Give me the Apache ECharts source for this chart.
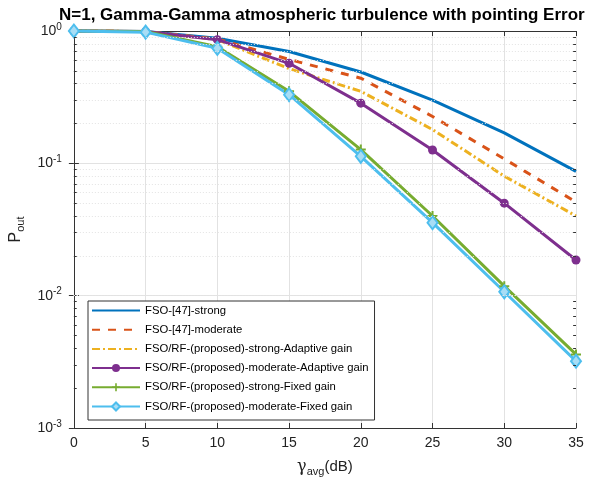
<!DOCTYPE html>
<html><head><meta charset="utf-8">
<script src="https://cdn.jsdelivr.net/npm/echarts@6/dist/echarts.min.js"></script>
<style>html,body{margin:0;padding:0;background:#fff}#c{width:590px;height:482px}</style>
</head><body><div id="c"></div>
<script>
const xValues = [0, 5, 10, 15, 20, 25, 30, 35];
const fsoStrong = [1, 0.99, 0.88, 0.70, 0.49, 0.30, 0.17, 0.087];
const fsoModerate = [1, 0.99, 0.87, 0.61, 0.44, 0.226, 0.108, 0.051];
const rfStrongAdaptive = [1, 0.99, 0.86, 0.52, 0.35, 0.18, 0.08, 0.040];
const rfModerateAdaptive = [1, 0.99, 0.86, 0.57, 0.285, 0.126, 0.050, 0.0186];
const rfStrongFixed = [1, 0.99, 0.76, 0.35, 0.127, 0.040, 0.0118, 0.0036];
const rfModerateFixed = [1, 0.98, 0.74, 0.33, 0.113, 0.0356, 0.0107, 0.0032];
const seriesNames = ['FSO-[47]-strong', 'FSO-[47]-moderate', 'FSO/RF-(proposed)-strong-Adaptive gain',
  'FSO/RF-(proposed)-moderate-Adaptive gain', 'FSO/RF-(proposed)-strong-Fixed gain', 'FSO/RF-(proposed)-moderate-Fixed gain'];
const yTickLabels = {1: '10{s|0}', 0.1: '10{s|-1}', 0.01: '10{s|-2}', 0.001: '10{s|-3}'};
const minorGridValues = [0.002,0.003,0.004,0.005,0.006,0.007,0.008,0.009,
  0.02,0.03,0.04,0.05,0.06,0.07,0.08,0.09,0.2,0.3,0.4,0.5,0.6,0.7,0.8,0.9];

const pair = arr => xValues.map((x, i) => [x, arr[i]]);
const plusPath = 'path://M4,0h2v4h4v2h-4v4h-2v-4h-4v-2h4z';
const font = 'Liberation Sans, Arial, sans-serif';

function lineSeries(name, data, color, opts) {
  return Object.assign({
    name, type: 'line', data: pair(data), clip: false,
    lineStyle: { color, width: 3 }, itemStyle: { color },
    symbol: 'none', showSymbol: false, z: 3
  }, opts || {});
}

const chart = echarts.init(document.getElementById('c'), null, { renderer: 'canvas' });
chart.setOption({
  animation: false,
  textStyle: { fontFamily: font },
  title: {
    text: 'N=1, Gamma-Gamma atmospheric turbulence with pointing Error',
    left: 54, top: 2,
    textStyle: { fontFamily: font, fontSize: 17, fontWeight: 'bold', color: '#000' }
  },
  grid: { left: 72, right: 14, top: 31, bottom: 51, show: false },
  legend: {
    orient: 'vertical', left: 88, top: 301,
    backgroundColor: '#fff', borderColor: '#333', borderWidth: 1, borderRadius: 0,
    padding: [4, 6, 8, 3], itemGap: 8.2, itemWidth: 48, itemHeight: 10,
    textStyle: { fontFamily: font, fontSize: 11.3, color: '#000' },
    data: seriesNames.map((n, i) => i < 3 ? { name: n, itemStyle: { opacity: 0 } } : { name: n })
  },
  xAxis: [{
    type: 'value', min: 0, max: 35, interval: 5,
    name: '{g|γ}{s|avg}(dB)', nameLocation: 'middle', nameGap: 28,
    nameTextStyle: { fontFamily: font, fontSize: 15, color: '#222',
      rich: { g: { fontSize: 16, fontFamily: 'DejaVu Serif', color: '#222' }, s: { fontSize: 11, verticalAlign: 'bottom', padding: [10, 0, 0, 0], color: '#222' } } },
    axisLine: { show: true, onZero: false, lineStyle: { color: '#333', width: 1 } },
    axisTick: { inside: true, length: 5, lineStyle: { color: '#333' } },
    axisLabel: { fontSize: 14, color: '#222', margin: 8, fontFamily: font },
    splitLine: { show: true, lineStyle: { color: '#e2e2e2', width: 1 } }
  }, {
    type: 'value', min: 0, max: 35, interval: 5, position: 'top',
    axisLine: { show: true, lineStyle: { color: '#333', width: 1 } },
    axisTick: { inside: true, length: 5, lineStyle: { color: '#333' } },
    axisLabel: { show: false }, splitLine: { show: false }
  }],
  yAxis: [{
    type: 'log', logBase: 10, min: 0.001, max: 1,
    name: 'P{s|out}', nameLocation: 'middle', nameGap: 43, nameRotate: 90,
    nameTextStyle: { fontFamily: font, fontSize: 16, color: '#222',
      rich: { s: { fontSize: 11, verticalAlign: 'bottom', padding: [10, 0, 0, 0], color: '#222' } } },
    axisLine: { show: true, lineStyle: { color: '#333', width: 1 } },
    axisTick: { inside: true, length: 5, lineStyle: { color: '#333' } },
    axisLabel: {
      fontSize: 14, color: '#222', margin: 12, fontFamily: font,
      formatter: v => { for (const k in yTickLabels) { if (Math.abs(Math.log10(v) - Math.log10(+k)) < 1e-6) return yTickLabels[k]; } return ''; },
      rich: { s: { fontSize: 10, verticalAlign: 'top', padding: [0, 0, 8, 0], color: '#222' } }
    },
    splitLine: { show: true, lineStyle: { color: '#e2e2e2', width: 1 } }
  }, {
    type: 'log', logBase: 10, min: 0.001, max: 1, position: 'right',
    axisLine: { show: true, lineStyle: { color: '#333', width: 1 } },
    axisTick: { inside: true, length: 5, lineStyle: { color: '#333' } },
    axisLabel: { show: false }, splitLine: { show: false }
  }],
  series: [
    {
      type: 'line', data: [], silent: true, z: 1,
      markLine: {
        silent: true, symbol: 'none', label: { show: false },
        lineStyle: { color: '#e3e3e3', type: [1, 2], width: 1 },
        data: minorGridValues.map(v => ({ yAxis: v }))
      }
    },
    {
      type: 'line', data: [], silent: true, z: 2,
      markLine: {
        silent: true, symbol: 'none', label: { show: false },
        lineStyle: { color: '#333', type: 'solid', width: 1 },
        data: minorGridValues.flatMap(v => [
          [{ coord: [0, v] }, { coord: [0.2, v] }],
          [{ coord: [34.8, v] }, { coord: [35, v] }]
        ])
      }
    },
    lineSeries(seriesNames[0], fsoStrong, '#0072BD'),
    lineSeries(seriesNames[1], fsoModerate, '#D95319', { lineStyle: { color: '#D95319', width: 3, type: [8, 8] } }),
    lineSeries(seriesNames[2], rfStrongAdaptive, '#EDB120', { lineStyle: { color: '#EDB120', width: 3, type: [8, 3, 2, 3] } }),
    lineSeries(seriesNames[3], rfModerateAdaptive, '#7E2F8E', { symbol: 'circle', symbolSize: 9, showSymbol: true }),
    lineSeries(seriesNames[4], rfStrongFixed, '#77AC30', { symbol: plusPath, symbolSize: 10, showSymbol: true }),
    lineSeries(seriesNames[5], rfModerateFixed, '#4DBEEE', { symbol: 'diamond', symbolSize: [10, 13], showSymbol: true,
      itemStyle: { color: '#a8ddf5', borderColor: '#4DBEEE', borderWidth: 2 } })
  ]
});
</script></body></html>
